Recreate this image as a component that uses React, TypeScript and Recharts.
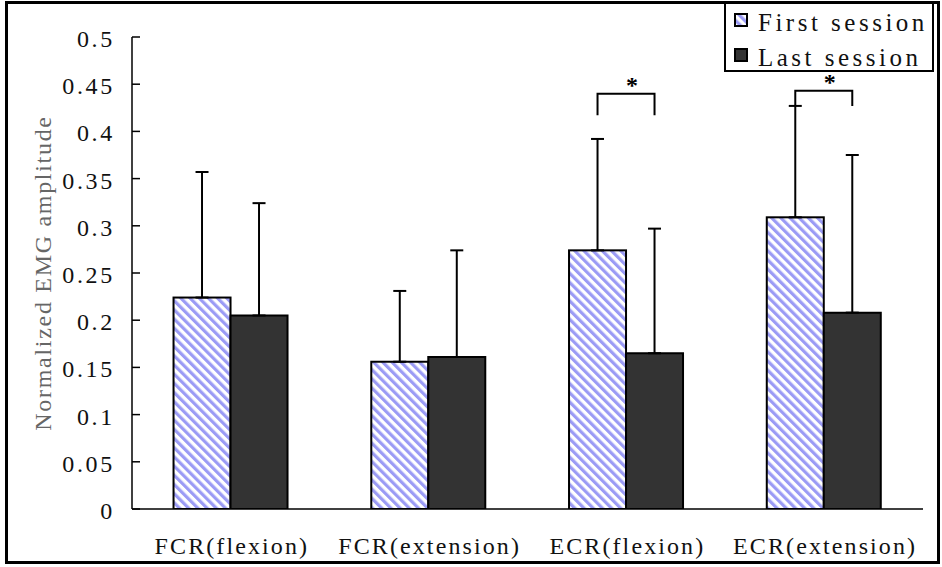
import React from 'react';
import { BarChart, Bar, XAxis, YAxis, ErrorBar, Legend } from 'recharts';

const muscles = ['FCR(flexion)', 'FCR(extension)', 'ECR(flexion)', 'ECR(extension)'];
const firstSession = [0.224, 0.156, 0.274, 0.309];
const firstSd = [0.133, 0.075, 0.118, 0.118];
const lastSession = [0.205, 0.161, 0.165, 0.208];
const lastSd = [0.119, 0.113, 0.132, 0.167];
// significance brackets: height of the bar across, and where its legs end (null = no bracket)
const bracketTop = [null, null, 0.44, 0.443];
const bracketFoot = [null, null, 0.417, 0.427];
const yTicks = [0, 0.05, 0.1, 0.15, 0.2, 0.25, 0.3, 0.35, 0.4, 0.45, 0.5];
const groupEdges = [0, 1, 2, 3, 4];

const data = muscles.map((name, i) => ({
  name,
  first: firstSession[i],
  firstErr: [0, firstSd[i]],
  last: lastSession[i],
  lastErr: [0, lastSd[i]],
  top: bracketTop[i],
  foot: bracketFoot[i],
}));

const FONT = '"Liberation Serif", "DejaVu Serif", serif';
const HATCH = '#9b9bf5';

const fmt = (v: number) => (v === 0 ? '0' : String(+v.toFixed(2)));

const YTick = (props: any) => (
  <text
    x={props.x}
    y={props.y + 10}
    textAnchor="end"
    fontFamily={FONT}
    fontSize={24}
    letterSpacing={2.7}
    fill="#111"
  >
    {fmt(props.payload.value)}
  </text>
);

const XTick = (props: any) => (
  <text
    x={props.x + 1}
    y={props.y + 17}
    textAnchor="middle"
    fontFamily={FONT}
    fontSize={24}
    letterSpacing={2.1}
    fill="#111"
  >
    {props.payload.value}
  </text>
);

// first-session bar; also draws the significance bracket to the neighbouring bar
const FirstBar = (props: any) => {
  const { x, y, width, height, fill, payload } = props;
  const base = y + height;
  const perUnit = height / payload.first;
  const yOf = (v: number) => base - v * perUnit;
  const cx1 = x + width / 2;
  const cx2 = x + width * 1.5;
  return (
    <g>
      <rect x={x} y={y} width={width} height={height} fill={fill} stroke="#000" strokeWidth={2} />
      {payload.top != null && (
        <g>
          <path
            d={`M${cx1},${yOf(payload.foot)} V${yOf(payload.top)} H${cx2} V${yOf(payload.foot)}`}
            fill="none"
            stroke="#000"
            strokeWidth={2}
          />
          <text
            x={(cx1 + cx2) / 2 + 6}
            y={yOf(payload.top) - 1}
            textAnchor="middle"
            fontFamily={FONT}
            fontWeight="bold"
            fontSize={24}
            fill="#000"
          >
            *
          </text>
        </g>
      )}
    </g>
  );
};

const LegendBox = (props: any) => {
  const items = props.payload || [];
  return (
    <div style={{ width: 210, height: 70, border: '2px solid #000', boxSizing: 'border-box', background: '#fff' }}>
      <svg width={206} height={66}>
        {items.map((it: any, i: number) => (
          <g key={it.value}>
            <rect x={9} y={10 + i * 35} width={12} height={12} fill={it.color} stroke="#000" strokeWidth={2} />
            <text
              x={32}
              y={27 + i * 35}
              fontFamily={FONT}
              fontSize={25}
              letterSpacing={3.5}
              fill="#111"
            >
              {it.value}
            </text>
          </g>
        ))}
      </svg>
    </div>
  );
};

const YLabel = (props: any) => {
  const vb = props.viewBox;
  const cx = vb.x + 51;
  const cy = vb.y + vb.height / 2;
  return (
    <text
      x={cx}
      y={cy}
      transform={`rotate(-90 ${cx} ${cy})`}
      textAnchor="middle"
      fontFamily={FONT}
      fontSize={24}
      letterSpacing={1.7}
      fill="#666"
    >
      Normalized EMG amplitude
    </text>
  );
};

export default function App() {
  return (
    <div style={{ position: 'absolute', left: 0, top: 0, width: 942, height: 567, background: '#fff' }}>
      <svg width={0} height={0} style={{ position: 'absolute' }}>
        <defs>
          <pattern id="hatch" width={6.5} height={6.5} patternUnits="userSpaceOnUse" patternTransform="rotate(-45)">
            <rect width={6.5} height={6.5} fill="#fff" />
            <rect width={3.2} height={6.5} fill={HATCH} />
          </pattern>
        </defs>
      </svg>
      <div
        style={{
          position: 'absolute',
          left: 5,
          top: 1,
          width: 935,
          height: 563,
          border: '3px solid #000',
          boxSizing: 'border-box',
          pointerEvents: 'none',
          zIndex: 2,
        }}
      />
      <BarChart
        width={942}
        height={567}
        data={data}
        margin={{ top: 37, right: 19, left: 0, bottom: 0 }}
        barGap={0}
        barCategoryGap="21%"
      >
        <XAxis
          xAxisId="edge"
          type="number"
          domain={[0, 4]}
          ticks={groupEdges}
          height={0}
          axisLine={false}
          tick={false}
          tickSize={-8}
          tickLine={{ stroke: '#000', strokeWidth: 1.5 }}
        />
        <XAxis
          xAxisId="cat"
          dataKey="name"
          height={58}
          interval={0}
          tickLine={false}
          tickSize={0}
          tickMargin={28}
          axisLine={{ stroke: '#000', strokeWidth: 1.5 }}
          tick={XTick}
        />
        <YAxis
          width={132}
          domain={[0, 0.5]}
          ticks={yTicks}
          interval={0}
          allowDataOverflow
          axisLine={{ stroke: '#000', strokeWidth: 1.5 }}
          tickLine={{ stroke: '#000', strokeWidth: 1.5 }}
          tickSize={-8}
          tickMargin={25}
          tick={YTick}
          label={{ content: YLabel }}
        />
        <Legend
          layout="vertical"
          align="center"
          verticalAlign="middle"
          wrapperStyle={{ position: 'absolute', top: 2, left: 724, width: 210, height: 70 }}
          content={LegendBox}
        />
        <Bar
          xAxisId="cat"
          dataKey="first"
          name="First session"
          fill="url(#hatch)"
          stroke="#000"
          strokeWidth={2}
          shape={FirstBar}
          isAnimationActive={false}
        >
          <ErrorBar dataKey="firstErr" direction="y" width={6.5} stroke="#000" strokeWidth={2} />
        </Bar>
        <Bar
          xAxisId="cat"
          dataKey="last"
          name="Last session"
          fill="#333333"
          stroke="#000"
          strokeWidth={2}
          isAnimationActive={false}
        >
          <ErrorBar dataKey="lastErr" direction="y" width={6.5} stroke="#000" strokeWidth={2} />
        </Bar>
      </BarChart>
    </div>
  );
}
